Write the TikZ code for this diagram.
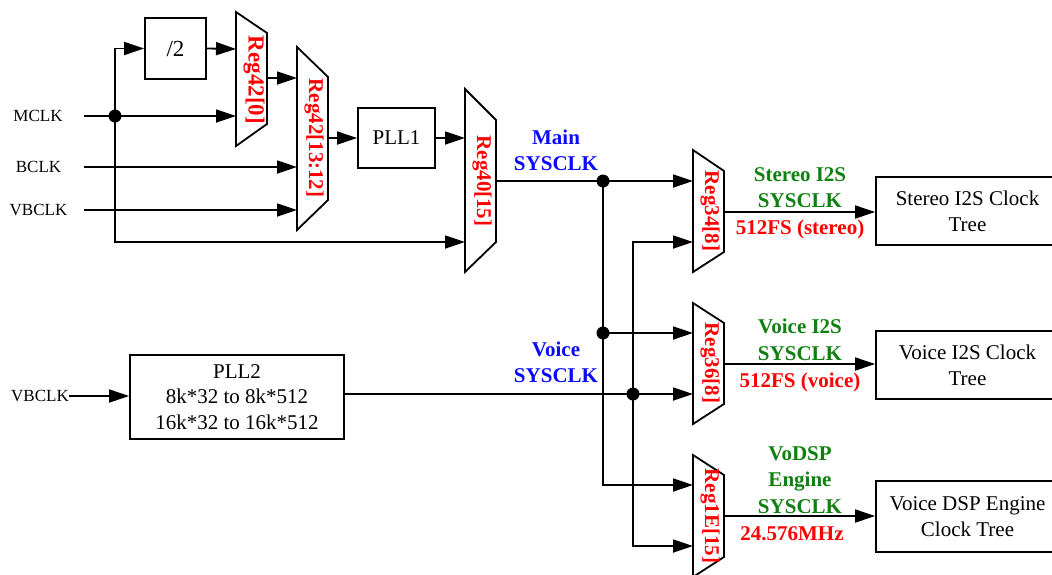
\documentclass[tikz,border=0pt]{standalone}
\usepackage{fontspec}
\setmainfont{Liberation Serif}
\usetikzlibrary{arrows.meta}
\definecolor{sysgreen}{RGB}{16,128,16}
\definecolor{sysblue}{RGB}{10,10,255}
\definecolor{sysred}{RGB}{255,0,0}
\begin{document}
\begin{tikzpicture}[x=1pt,y=-1pt,
  wire/.style={line width=1.8pt},
  arr/.style={wire,-{Triangle[length=20pt,width=13pt]}},
  blk/.style={draw,line width=1.8pt,inner sep=0pt,align=center,font=\fontsize{21}{26}\selectfont},
  mux/.style={draw,line width=1.8pt,line join=miter},
  reglab/.style={text=sysred,font=\fontsize{21}{24}\selectfont\bfseries,rotate=-90,inner sep=0pt},
  inlab/.style={font=\fontsize{17}{20}\selectfont,inner sep=0pt},
  grn/.style={font=\fontsize{21}{26.5}\selectfont\bfseries,text=sysgreen,align=center,inner sep=0pt},
  blu/.style={font=\fontsize{21}{26}\selectfont\bfseries,text=sysblue,align=center,inner sep=0pt},
  rlab/.style={font=\fontsize{21}{26}\selectfont\bfseries,text=sysred,inner sep=0pt},
  dot/.style={circle,fill=black,inner sep=0pt,minimum size=13pt}
]
\useasboundingbox (0,0) rectangle (1052,574);

% ---------- multiplexers ----------
\draw[mux] (236,12) -- (267,33) -- (267,124) -- (236,146) -- cycle;
\draw[mux] (297,47) -- (328,77) -- (328,200) -- (297,230) -- cycle;
\draw[mux] (465,89) -- (496,120) -- (496,242) -- (465,272) -- cycle;
\draw[mux] (693,150) -- (724,171) -- (724,252) -- (693,272) -- cycle;
\draw[mux] (693,303) -- (724,323) -- (724,404) -- (693,424) -- cycle;
\draw[mux] (693,455) -- (724,475) -- (724,557) -- (693,577) -- cycle;

\node[reglab,font=\fontsize{23}{26}\selectfont\bfseries] (r420) at (254,80) {Reg42[0]};
\node[reglab] (r421312) at (314,138) {Reg42[13:12]};
\node[reglab] (r4015) at (482,181) {Reg40[15]};
\node[reglab] (r348) at (710,211) {Reg34[8]};
\node[reglab] (r368) at (710,363) {Reg36[8]};
\node[reglab] (r1e15) at (710,516) {Reg1E[15]};

% mux ports
\coordinate (m0a) at (236,49);
\coordinate (m0b) at (236,116);
\coordinate (m0o) at (267,78);
\coordinate (m1a) at (297,78);
\coordinate (m1b) at (297,167);
\coordinate (m1c) at (297,210);
\coordinate (m1o) at (328,138);
\coordinate (m2a) at (465,138);
\coordinate (m2b) at (465,242);
\coordinate (m2o) at (496,181);
\coordinate (m3a) at (693,181);
\coordinate (m3b) at (693,242);
\coordinate (m3o) at (724,212);
\coordinate (m4a) at (693,333);
\coordinate (m4b) at (693,394);
\coordinate (m4o) at (724,364);
\coordinate (m5a) at (693,485);
\coordinate (m5b) at (693,546);
\coordinate (m5o) at (724,516);

% ---------- blocks ----------
\node[blk,minimum width=61pt,minimum height=61pt,font=\fontsize{23}{26}\selectfont] (div) at (175.5,48.5) {/2};
\node[blk,minimum width=77pt,minimum height=60pt] (pll1) at (396.5,138) {PLL1};
\node[blk,minimum width=214pt,minimum height=84pt,font=\fontsize{21}{25.5}\selectfont] (pll2) at (237,397) {PLL2\\8k*32 to 8k*512\\16k*32 to 16k*512};
\node[blk,minimum width=183pt,minimum height=68pt] (stree) at (967.5,211) {Stereo I2S Clock\\Tree};
\node[blk,minimum width=183pt,minimum height=68pt] (vtree) at (967.5,365) {Voice I2S Clock\\Tree};
\node[blk,minimum width=183pt,minimum height=71pt] (dtree) at (967.5,516.5) {Voice DSP Engine\\Clock Tree};

% ---------- inputs ----------
\node[inlab] (mclk) at (38,116) {MCLK};
\node[inlab] (bclk) at (38.5,167) {BCLK};
\node[inlab] (vbclk) at (38.5,210) {VBCLK};
\node[inlab] (vbclk2) at (40,396) {VBCLK};
\coordinate (mclkE) at (84,116);
\coordinate (bclkE) at (84,167);
\coordinate (vbclkE) at (84,210);
\coordinate (vb2E) at (69,396);

% junctions
\node[dot] (j1) at (115,116) {};
\node[dot] (j2) at (603,181) {};
\node[dot] (j3) at (603,333) {};
\node[dot] (j4) at (633,394) {};

% ---------- wires ----------
\draw[wire] (mclkE) -- (j1.center);
\draw[arr] (j1.center) -- (m0b);
\draw[arr] (j1.center) |- (div.west);
\draw[arr] (div.east) -- (m0a);
\draw[arr] (m0o) -- (m1a);
\draw[arr] (bclkE) -- (m1b);
\draw[arr] (vbclkE) -- (m1c);
\draw[arr] (j1.center) |- (m2b);
\draw[arr] (m1o) -- (pll1.west);
\draw[arr] (pll1.east) -- (m2a);
\draw[wire] (m2o) -- (j2.center);
\draw[arr] (j2.center) -- (m3a);
\draw[wire] (j2.center) -- (j3.center);
\draw[arr] (j3.center) -- (m4a);
\draw[arr] (j3.center) |- (m5a);
\draw[arr] (vb2E) -- (vb2E -| pll2.west);
\draw[wire] (pll2.east |- m4b) -- (j4.center);
\draw[arr] (j4.center) -- (m4b);
\draw[arr] (j4.center) |- (m3b);
\draw[arr] (j4.center) |- (m5b);
\draw[arr] (m3o) -- (m3o -| stree.west);
\draw[arr] (m4o) -- (m4o -| vtree.west);
\draw[arr] (m5o) -- (m5o -| dtree.west);

% ---------- labels ----------
\node[blu] (mainlab) at (556,150) {Main\\SYSCLK};
\node[blu] (voicelab) at (556,362.5) {Voice\\SYSCLK};
\node[grn] (slab) at (800,187.5) {Stereo I2S\\SYSCLK};
\node[rlab] (sfs) at (800,229) {512FS (stereo)};
\node[grn] (vlab) at (800,340) {Voice I2S\\SYSCLK};
\node[rlab] (vfs) at (800,382) {512FS (voice)};
\node[grn] (dlab) at (800,480) {VoDSP\\Engine\\SYSCLK};
\node[rlab] (dfs) at (792,534) {24.576MHz};
\end{tikzpicture}
\end{document}
